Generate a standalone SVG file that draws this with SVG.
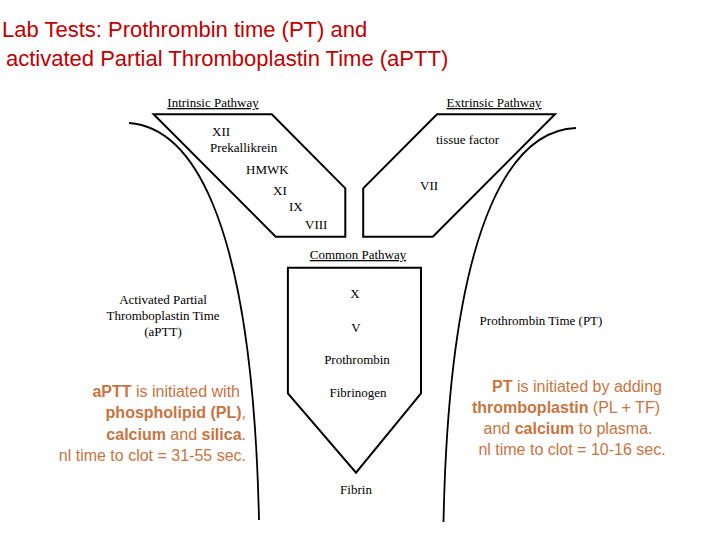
<svg xmlns="http://www.w3.org/2000/svg" width="720" height="540" viewBox="0 0 720 540">
<style>
.t{font-family:"Liberation Sans",Arial,sans-serif;fill:#c00000;font-size:22px}
.s{font-family:"Liberation Serif","Times New Roman",serif;fill:#000;font-size:13px}
.u{text-decoration:underline}
.o{font-family:"Liberation Sans",Arial,sans-serif;fill:#c8743f;font-size:16px}
.b{font-weight:bold}
.sh{fill:#fff;stroke:#000;stroke-width:2}
.c{fill:none;stroke:#000;stroke-width:1.8}
</style>
<rect width="720" height="540" fill="#fff"/>
<text class="t" x="2" y="37">Lab Tests: Prothrombin time (PT) and</text>
<text class="t" x="6" y="66">activated Partial Thromboplastin Time (aPTT)</text>
<g id="connectors">
<path class="c" d="M129,123 C185,127 252,200 259,520"/>
<path class="c" d="M576,128 C520,130 450,200 443.5,522"/>
</g>
<g id="intrinsic">
<text class="s u" x="213" y="107" text-anchor="middle">Intrinsic Pathway</text>
<polygon class="sh" points="153.6,114.3 271.8,114.3 345.3,188.3 345.3,236.7 275.7,236.7"/>
<text class="s" x="212" y="136">XII</text>
<text class="s" x="210" y="152">Prekallikrein</text>
<text class="s" x="246" y="174">HMWK</text>
<text class="s" x="273" y="195">XI</text>
<text class="s" x="289" y="211">IX</text>
<text class="s" x="305" y="229">VIII</text>
</g>
<g id="extrinsic">
<text class="s u" x="494" y="107" text-anchor="middle">Extrinsic Pathway</text>
<polygon class="sh" points="437,114.3 555,114.3 432.8,236.7 363.2,236.7 363.2,188.3"/>
<text class="s" x="436" y="144">tissue factor</text>
<text class="s" x="420" y="190">VII</text>
</g>
<g id="common">
<text class="s u" x="358" y="259" text-anchor="middle">Common Pathway</text>
<polygon class="sh" points="287.9,267.7 421,267.7 421,393.3 356,472.7 287.9,393.3"/>
<text class="s" x="355" y="298" text-anchor="middle">X</text>
<text class="s" x="356" y="332" text-anchor="middle">V</text>
<text class="s" x="357" y="364" text-anchor="middle">Prothrombin</text>
<text class="s" x="358" y="397" text-anchor="middle">Fibrinogen</text>
<text class="s" x="356" y="494" text-anchor="middle">Fibrin</text>
</g>
<g id="aptt">
<text class="s" x="163" y="304" text-anchor="middle">Activated Partial</text>
<text class="s" x="163" y="320" text-anchor="middle">Thromboplastin Time</text>
<text class="s" x="163" y="336" text-anchor="middle">(aPTT)</text>
<text class="o" x="240" y="397" text-anchor="end"><tspan class="b">aPTT</tspan> is initiated with</text>
<text class="o" x="246" y="418" text-anchor="end"><tspan class="b">phospholipid (PL)</tspan>,</text>
<text class="o" x="246" y="440" text-anchor="end"><tspan class="b">calcium</tspan> and <tspan class="b">silica</tspan>.</text>
<text class="o" x="246" y="461" text-anchor="end">nl time to clot = 31-55 sec.</text>
</g>
<g id="pt">
<text class="s" x="541" y="325" text-anchor="middle">Prothrombin Time (PT)</text>
<text class="o" x="577" y="392" text-anchor="middle"><tspan class="b">PT</tspan> is initiated by adding</text>
<text class="o" x="566" y="413" text-anchor="middle"><tspan class="b">thromboplastin</tspan> (PL + TF)</text>
<text class="o" x="568" y="434" text-anchor="middle">and <tspan class="b">calcium</tspan> to plasma.</text>
<text class="o" x="572" y="455" text-anchor="middle">nl time to clot = 10-16 sec.</text>
</g>
</svg>
